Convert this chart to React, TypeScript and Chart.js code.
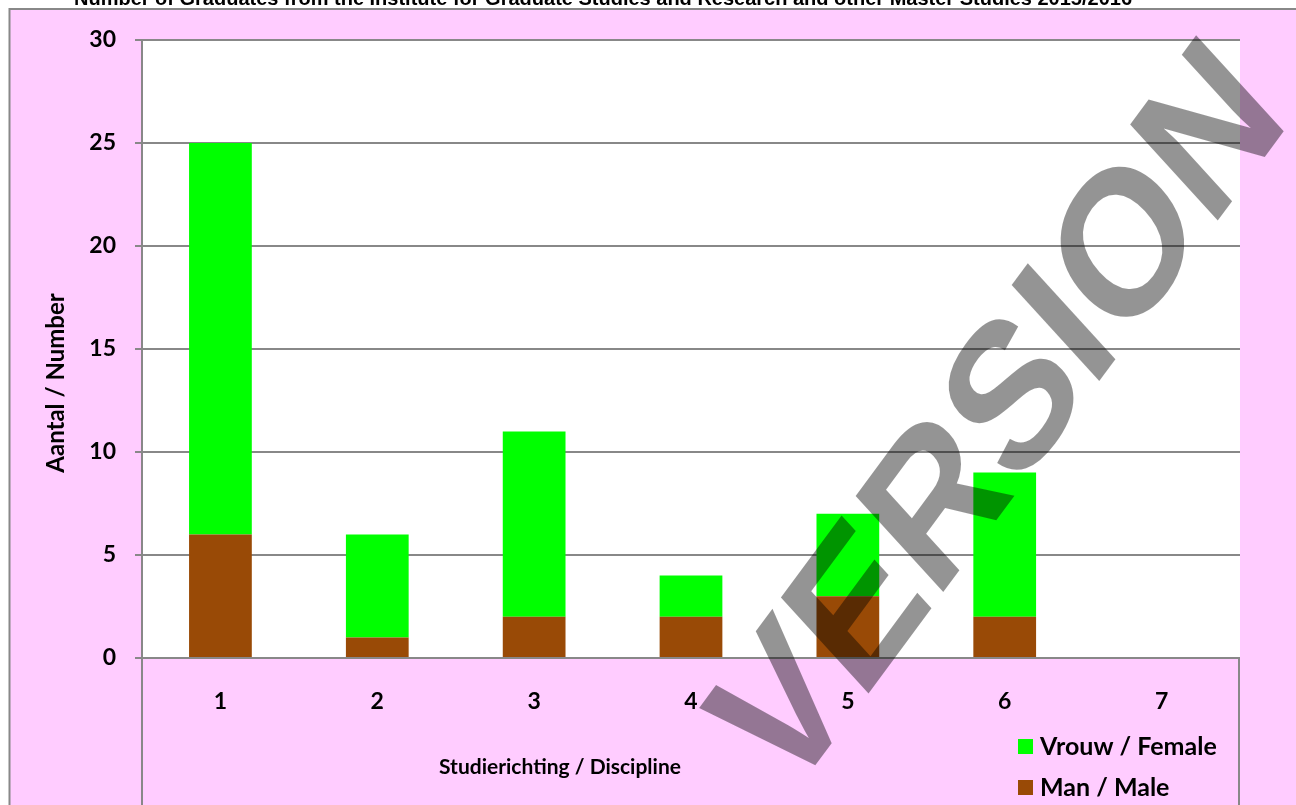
import React, { useEffect, useRef } from "react";
import { Chart, registerables } from "chart.js";

Chart.register(...registerables);

const categories = ["1", "2", "3", "4", "5", "6", "7"];
const maleValues = [6, 1, 2, 2, 3, 2, 0];
const femaleValues = [19, 5, 9, 2, 4, 7, 0];
const yMin = 0;
const yMax = 30;
const yStep = 5;

const titleText =
  "Number of Graduates from the Institute for Graduate Studies and Research and other Master Studies 2015/2016";
const xTitleText = "Studierichting / Discipline";
const yTitleText = "Aantal / Number";
const watermarkText = "VERSION";

const PINK = "#FFCCFF";
const GRAY = "#888888";
const GREEN = "#00FF00";
const BROWN = "#994A06";
const FONT = "Lato, 'Open Sans', sans-serif";

const decorPlugin = {
  id: "decor",
  beforeDraw(chart: any) {
    const { ctx, chartArea } = chart;
    ctx.save();
    ctx.fillStyle = "#ffffff";
    ctx.fillRect(0, 0, chart.width, chart.height);
    ctx.fillStyle = PINK;
    ctx.fillRect(9, 9, chart.width - 9, chart.height - 9);
    ctx.strokeStyle = GRAY;
    ctx.lineWidth = 2;
    ctx.beginPath();
    ctx.moveTo(9.5, chart.height);
    ctx.lineTo(9.5, 9);
    ctx.lineTo(chart.width, 9);
    ctx.stroke();
    ctx.fillStyle = "#ffffff";
    ctx.fillRect(chartArea.left, chartArea.top, chartArea.right - chartArea.left, chartArea.bottom - chartArea.top);
    // title (partly cut off at the top)
    ctx.fillStyle = "#000";
    ctx.font = "bold 20px 'Liberation Sans', Arial, sans-serif";
    ctx.textAlign = "center";
    ctx.textBaseline = "alphabetic";
    ctx.fillText(titleText, 603, 5);
    ctx.restore();
  },
  afterDraw(chart: any) {
    const { ctx, chartArea } = chart;
    ctx.save();
    ctx.strokeStyle = GRAY;
    ctx.lineWidth = 2;
    ctx.beginPath();
    ctx.moveTo(chartArea.left, chartArea.top);
    ctx.lineTo(chartArea.left, chart.height);
    ctx.moveTo(chartArea.right - 1, chartArea.bottom);
    ctx.lineTo(chartArea.right - 1, chart.height);
    ctx.stroke();

    ctx.fillStyle = "#000";
    // x title
    ctx.font = `bold 21px ${FONT}`;
    ctx.textAlign = "center";
    ctx.textBaseline = "middle";
    ctx.fillText(xTitleText, 560, 767);
    // y title
    ctx.save();
    ctx.translate(56, 383);
    ctx.rotate(-Math.PI / 2);
    ctx.font = `bold 24px ${FONT}`;
    ctx.fillText(yTitleText, 0, 0);
    ctx.restore();

    // legend (reverse order: top series first)
    const ds = chart.data.datasets;
    ctx.font = `bold 25px ${FONT}`;
    ctx.textAlign = "left";
    ctx.textBaseline = "middle";
    for (let i = ds.length - 1, row = 0; i >= 0; i--, row++) {
      const cy = 746 + row * 41;
      ctx.fillStyle = ds[i].backgroundColor;
      ctx.fillRect(1018, cy - 7, 15, 15);
      ctx.fillStyle = "#000";
      ctx.fillText(ds[i].label, 1040, cy + 1);
    }

    // watermark
    ctx.setTransform(0.594, -0.804, 0.674, 0.738, 786, 805);
    ctx.font = "bold 189px 'Liberation Sans', Arial, sans-serif";
    ctx.fillStyle = "rgba(0,0,0,0.42)";
    ctx.textAlign = "left";
    ctx.textBaseline = "alphabetic";
    ctx.fillText(watermarkText, 0, 0);
    ctx.restore();
  },
};

export default function App() {
  const ref = useRef<HTMLCanvasElement>(null);
  useEffect(() => {
    if (!ref.current) return;
    const chart = new Chart(ref.current, {
      type: "bar",
      data: {
        labels: categories,
        datasets: [
          { label: "Man / Male", data: maleValues, backgroundColor: BROWN, borderWidth: 0 },
          { label: "Vrouw / Female", data: femaleValues, backgroundColor: GREEN, borderWidth: 0 },
        ],
      },
      options: {
        animation: false,
        responsive: false,
        devicePixelRatio: 1,
        layout: { padding: { left: 0, top: 40, right: 56, bottom: 0 } },
        plugins: { legend: { display: false }, tooltip: { enabled: false }, title: { display: false } },
        datasets: { bar: { categoryPercentage: 1, barPercentage: 0.4 } },
        scales: {
          x: {
            stacked: true,
            grid: { display: false },
            border: { display: false },
            ticks: { color: "#000", font: { family: FONT, weight: "bold", size: 23 }, padding: 22 },
            afterFit: (s: any) => {
              s.height = 147;
            },
          },
          y: {
            stacked: true,
            min: yMin,
            max: yMax,
            ticks: { stepSize: yStep, color: "#000", font: { family: FONT, weight: "bold", size: 23 }, padding: 19 },
            grid: { color: GRAY, lineWidth: 2, tickLength: 7 },
            border: { display: true, color: GRAY, width: 2 },
            afterFit: (s: any) => {
              s.width = 142;
            },
          },
        },
      },
      plugins: [decorPlugin],
    } as any);
    return () => chart.destroy();
  }, []);
  return (
    <div style={{ position: "fixed", left: 0, top: 0, width: 1296, height: 805 }}>
      <canvas ref={ref} width={1296} height={805} style={{ display: "block" }} />
    </div>
  );
}
